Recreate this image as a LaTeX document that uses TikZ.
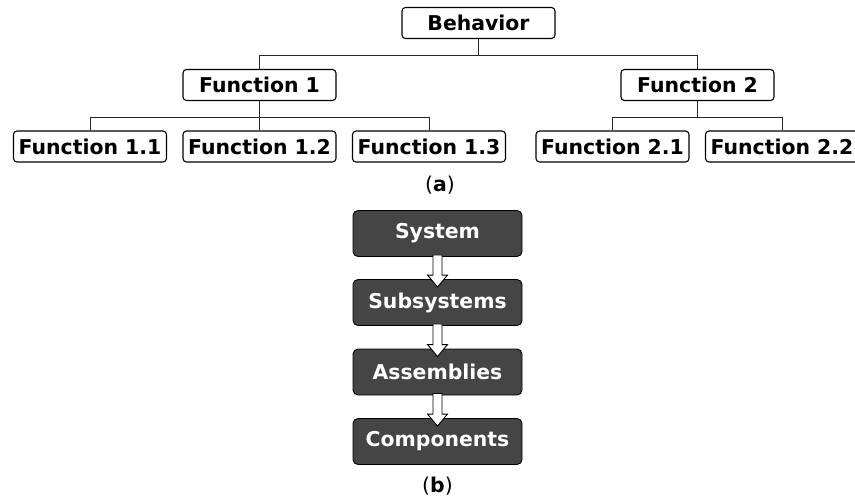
\documentclass[tikz,border=0pt]{standalone}
\usepackage{fontspec}
\setmainfont{DejaVu Sans}
\usetikzlibrary{calc}
\tikzset{
  fbox/.style={draw=black, line width=1.1pt, rounded corners=3.5pt, fill=white,
    minimum width=153pt, minimum height=31pt, inner sep=0pt,
    font=\fontsize{20.4}{23}\selectfont\bfseries},
  dbox/.style={draw=black, line width=0.9pt, rounded corners=5pt, fill=black!73,
    minimum width=169pt, minimum height=46pt, inner sep=0pt, text=white,
    font=\fontsize{20.4}{23}\selectfont\bfseries},
  conn/.style={draw=black!85, line width=1pt},
  blockarrow/.style={draw=black, line width=0.9pt, fill=white},
  caption/.style={font=\fontsize{20.4}{23}\selectfont, inner sep=0pt}
}
\begin{document}
\begin{tikzpicture}[x=1pt,y=1pt]
\useasboundingbox (0,0) rectangle (855,-499);
% (a) hierarchy
\node[fbox] (beh) at (478.5,-23) {Behavior};
\node[fbox] (f1) at (259.5,-85) {Function 1};
\node[fbox] (f2) at (697.5,-85) {Function 2};
\node[fbox] (f11) at (90,-146.5) {Function 1.1};
\node[fbox] (f12) at (259.5,-146.5) {Function 1.2};
\node[fbox] (f13) at (429,-146.5) {Function 1.3};
\node[fbox] (f21) at (612.5,-146.5) {Function 2.1};
\node[fbox] (f22) at (782,-146.5) {Function 2.2};
\draw[conn] (beh.south) -- ++(0,-16) coordinate (bj) -| (f1.north);
\draw[conn] (bj) -| (f2.north);
\draw[conn] (f1.south) -- ++(0,-16) coordinate (j1) -| (f11.north);
\draw[conn] (j1) -| (f13.north);
\draw[conn] (j1) -- (f12.north);
\draw[conn] (f2.south) -- ++(0,-16) coordinate (j2) -| (f21.north);
\draw[conn] (j2) -| (f22.north);
\node[caption] (capa) at (440,-185) {({\bfseries a})};
% (b) chain
\node[dbox] (sys) at (437.5,-233.5) {System};
\node[dbox] (sub) at (437.5,-302.5) {Subsystems};
\node[dbox] (asm) at (437.5,-372) {Assemblies};
\node[dbox] (cmp) at (437.5,-441.5) {Components};
\foreach \a/\b in {sys/sub,sub/asm,asm/cmp}{
  \draw[blockarrow] let \p1=(\a.south), \p2=(\b.north) in
    (\x1-4.5,\y1+2) -- (\x1-4.5,\y2+4) -- (\x1-10,\y2+4) -- (\x1,\y2-8)
    -- (\x1+10,\y2+4) -- (\x1+4.5,\y2+4) -- (\x1+4.5,\y1+2) -- cycle;
}
\node[caption] (capb) at (437.5,-486.5) {({\bfseries b})};
\end{tikzpicture}
\end{document}
